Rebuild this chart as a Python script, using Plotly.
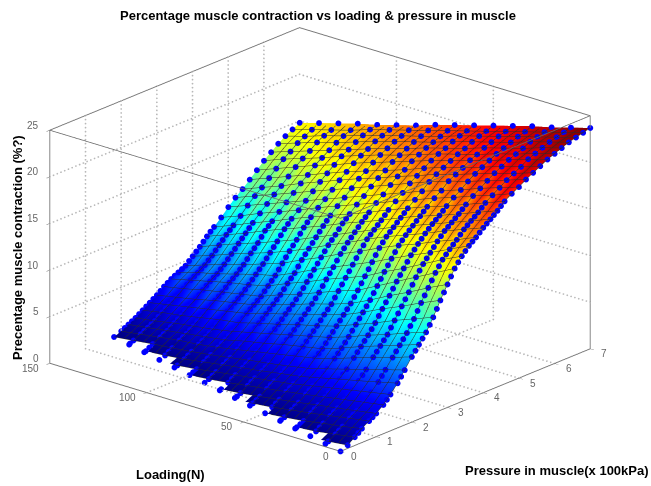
import numpy as np
import plotly.graph_objects as go

title_text = "Percentage muscle contraction vs loading & pressure in muscle"
x_title = "Pressure in muscle(x 100kPa)"
y_title = "Loading(N)"
z_title = "Precentage muscle contraction (%?)"

pressure = [round(0.2 * k, 1) for k in range(36)]
loading = [5 * j for j in range(31)]
chain_loading = [10 * i for i in range(16)]
chain_start = [0, .12, .24, .36, .48, .6, .72, .84, .96, 1.08, 1.2, 1.32, 1.44, 1.56, 1.68, 1.8]
pressure_limits = [0, 7]
loading_limits = [0, 150]
z_limits = [0, 25]
pressure_ticks = [0, 1, 2, 3, 4, 5, 6, 7]
loading_ticks = [0, 50, 100, 150]
z_ticks = [0, 5, 10, 15, 20, 25]

z_rows = [
[0],
[.35,.25,.13,.03],
[.9,.73,.57,.4,.26,.18,.07],
[1.5,1.3,1.1,.95,.8,.62,.45,.3,.2,.1,0],
[2,1.85,1.65,1.5,1.3,1.15,.95,.8,.65,.5,.33,.22,.12,.03],
[2.5,2.3,2.15,2,1.8,1.65,1.5,1.3,1.15,1,.83,.68,.53,.38,.27,.16,.06],
[3.1,2.9,2.75,2.55,2.4,2.2,2.05,1.9,1.7,1.55,1.37,1.2,1.05,.9,.75,.6,.45,.35,.2,.1,0],
[3.9,3.7,3.5,3.3,3.1,2.9,2.7,2.5,2.3,2.1,1.87,1.7,1.55,1.4,1.25,1.1,.95,.8,.65,.48,.32,.2,.1,.03],
[4.8,4.55,4.3,4.05,3.8,3.6,3.35,3.1,2.85,2.6,2.37,2.2,2.05,1.9,1.7,1.55,1.4,1.25,1.1,.95,.77,.6,.45,.33,.22,.13,.05],
[5.9,5.6,5.3,5,4.7,4.4,4.1,3.8,3.5,3.2,2.93,2.75,2.55,2.4,2.2,2.05,1.9,1.7,1.55,1.4,1.23,1.1,.95,.85,.7,.6,.5,.35,.25,.1,0],
[7,6.9,6.3,6.2,5.7,5.5,5,4.9,4.3,4.2,3.7,3.7,3.3,3.3,2.9,2.9,2.5,2.5,2.1,2.1,1.7,1.8,1.4,1.5,1.2,1.2,.9,.9,.6,.6,.3],
[8,7.8,7.3,7.1,6.6,6.4,5.9,5.7,5.1,5,4.4,4.4,4,4,3.6,3.5,3.1,3.1,2.7,2.6,2.2,2.3,1.9,2,1.6,1.7,1.3,1.4,1,1,.7],
[9,8.9,8.3,8.2,7.5,7.5,6.8,6.7,6,6,5.3,5.4,4.8,4.8,4.3,4.3,3.8,3.8,3.3,3.3,2.8,2.9,2.4,2.6,2.1,2.2,1.8,1.9,1.4,1.6,1.1],
[10.3,10.2,9.5,9.4,8.7,8.5,7.8,7.7,7,6.9,6.2,6.2,5.6,5.7,5.1,5.1,4.5,4.6,4,4,3.4,3.6,3.1,3.2,2.7,2.8,2.3,2.5,2,2.1,1.6],
[11.8,11.7,10.9,10.8,9.9,9.8,9,8.9,8,8,7.1,7.2,6.5,6.6,5.9,6,5.3,5.4,4.7,4.8,4.1,4.3,3.7,3.9,3.3,3.5,2.9,3.1,2.5,2.7,2.1],
[13.2,13.2,12.2,12.1,11.1,11.1,10.1,10,9,9,8,8.1,7.3,7.5,6.7,6.8,6,6.2,5.4,5.5,4.7,5,4.3,4.6,3.9,4.2,3.4,3.7,3,3.3,2.6],
[14.6,14.6,13.5,13.5,12.4,12.4,11.3,11.3,10.2,10.2,9.1,9.2,8.4,8.5,7.6,7.7,6.8,7,6.1,6.2,5.3,5.6,4.9,5.2,4.5,4.8,4.1,4.3,3.6,3.9,3.2],
[15.6,15.7,14.6,14.6,13.5,13.6,12.4,12.5,11.4,11.5,10.3,10.5,9.5,9.7,8.7,8.8,7.8,8,7,7.2,6.1,6.5,5.6,6,5.2,5.5,4.7,5,4.2,4.6,3.7],
[16.4,16.7,15.4,15.7,14.4,14.8,13.5,13.8,12.5,12.8,11.5,11.8,10.6,10.9,9.7,10,8.8,9.1,7.8,8.2,6.9,7.5,6.4,6.9,5.8,6.3,5.2,5.8,4.7,5.2,4.1],
[17,17.4,16.1,16.5,15.3,15.7,14.4,14.8,13.6,13.9,12.7,13,11.7,12.1,10.8,11.1,9.8,10.1,8.9,9.2,7.9,8.4,7.2,7.7,6.5,7,5.9,6.3,5.2,5.6,4.5],
[17.7,18.1,16.9,17.3,16.1,16.5,15.2,15.6,14.4,14.8,13.6,13.9,12.7,13,11.7,12,10.8,11.1,9.8,10.2,8.9,9.3,8.1,8.6,7.4,7.8,6.7,7.1,5.9,6.4,5.2],
[18.3,18.7,17.5,17.9,16.7,17.1,15.9,16.3,15.1,15.5,14.3,14.7,13.4,13.8,12.5,12.9,11.6,12,10.7,11.1,9.8,10.2,9,9.4,8.2,8.7,7.5,7.9,6.7,7.1,5.9],
[18.9,19.3,18.1,18.5,17.3,17.7,16.5,17,15.8,16.2,15,15.4,14.1,14.5,13.3,13.7,12.5,12.9,11.6,12,10.8,11.2,10,10.4,9.2,9.6,8.3,8.7,7.5,7.9,6.7],
[19.6,20,18.8,19.2,18,18.4,17.2,17.7,16.5,16.9,15.7,16.1,14.9,15.3,14,14.4,13.2,13.6,12.4,12.8,11.6,12,10.8,11.1,9.9,10.3,9.1,9.5,8.2,8.6,7.4],
[20.1,20.5,19.3,19.8,18.6,19,17.8,18.2,17.1,17.5,16.3,16.7,15.5,15.9,14.7,15.1,13.9,14.3,13.1,13.5,12.3,12.7,11.4,11.8,10.6,11,9.8,10.2,8.9,9.3,8.1],
[20.5,20.8,19.8,20.1,19.1,19.4,18.3,18.7,17.6,18,16.9,17.2,16.1,16.4,15.3,15.6,14.5,14.8,13.7,14,12.9,13.2,12.1,12.4,11.3,11.6,10.5,10.8,9.7,10,8.9],
[21,21.3,20.3,20.6,19.6,19.9,18.9,19.2,18.3,18.5,17.6,17.8,16.8,17,16,16.2,15.2,15.4,14.4,14.6,13.6,13.8,12.8,13,12,12.2,11.2,11.4,10.4,10.6,9.6],
[21.4,21.7,20.7,21,20.1,20.3,19.4,19.7,18.7,19,18.1,18.3,17.3,17.5,16.6,16.8,15.8,16,15.1,15.3,14.3,14.5,13.5,13.7,12.7,12.9,11.8,12,11,11.2,10.2],
[21.8,22,21.1,21.3,20.5,20.6,19.8,20,19.1,19.3,18.5,18.6,17.8,17.9,17,17.2,16.3,16.5,15.6,15.8,14.9,15,14.1,14.2,13.3,13.4,12.5,12.6,11.7,11.8,10.9],
[22.2,22.4,21.6,21.7,20.9,21.1,20.2,20.4,19.6,19.8,18.9,19.1,18.3,18.4,17.6,17.7,16.9,17.1,16.2,16.4,15.5,15.6,14.7,14.9,14,14.1,13.2,13.3,12.4,12.5,11.6],
[22.5,22.6,21.9,21.9,21.2,21.3,20.6,20.7,19.9,20,19.3,19.4,18.7,18.7,18,18.1,17.3,17.4,16.7,16.8,16,16.1,15.3,15.3,14.5,14.6,13.8,13.8,13.1,13.1,12.3],
[22.8,22.8,22.2,22.2,21.5,21.5,20.9,20.9,20.3,20.3,19.6,19.6,19,19,18.4,18.3,17.7,17.7,17.1,17.1,16.4,16.4,15.7,15.7,15,15,14.3,14.3,13.6,13.6,12.9],
[23.1,23.1,22.5,22.5,21.9,21.8,21.2,21.2,20.6,20.6,20,20,19.4,19.3,18.7,18.7,18.1,18.1,17.5,17.5,16.9,16.8,16.2,16.2,15.5,15.5,14.9,14.8,14.2,14.1,13.5],
[23.3,23.2,22.7,22.6,22.1,22,21.5,21.4,20.9,20.8,20.3,20.2,19.7,19.6,19,18.9,18.4,18.3,17.8,17.7,17.2,17.1,16.6,16.4,15.9,15.8,15.3,15.2,14.6,14.5,14],
[23.5,23.3,22.9,22.7,22.3,22.1,21.7,21.5,21.1,20.9,20.5,20.3,19.9,19.7,19.3,19.1,18.7,18.5,18.1,17.9,17.5,17.3,16.9,16.7,16.2,16,15.6,15.4,15,14.8,14.4],
[23.7,23.4,23.1,22.8,22.5,22.3,22,21.7,21.4,21.1,20.8,20.5,20.2,19.9,19.6,19.3,19,18.7,18.3,18,17.7,17.4,17.1,16.9,16.6,16.3,16,15.7,15.4,15.1,14.8],
]

# Extra chain markers, read where the chains are sampled more densely (one list per pressure, one value per chain).
extra_pressure = [.5,.9,1.3,1.7,2.1,2.3,2.5,2.7,2.9,3.1,3.3,3.5,3.7,3.9,4.1,4.3,4.5]
extra_rows = [
[1.2,.83,.53,.25,.05],
[2.25,1.9,1.55,1.22,.9,.58,.32,.07],
[3.5,3.12,2.75,2.38,2,1.62,1.3,1,.7,.42,.16],
[5.35,4.8,4.25,3.72,3.18,2.65,2.3,1.95,1.65,1.32,1,.7,.46,.28,.08],
[7.5,6.8,6.15,5.45,4.7,4.05,3.65,3.25,2.8,2.4,1.95,1.65,1.4,1.1,.8,.5],
[8.5,7.8,7.05,6.35,5.55,4.85,4.4,3.95,3.45,3,2.5,2.15,1.85,1.55,1.2,.9],
[9.65,8.9,8.1,7.3,6.5,5.75,5.2,4.7,4.15,3.65,3.1,2.75,2.4,2.05,1.7,1.35],
[11.05,10.2,9.3,8.4,7.5,6.65,6.05,5.5,4.9,4.35,3.75,3.4,3,2.6,2.25,1.85],
[12.5,11.55,10.5,9.55,8.5,7.55,6.9,6.3,5.65,5.05,4.4,4,3.6,3.15,2.75,2.35],
[13.9,12.85,11.75,10.7,9.6,8.55,7.85,7.15,6.4,5.75,5,4.6,4.2,3.75,3.3,2.9],
[15.1,14.05,12.95,11.85,10.8,9.7,8.95,8.15,7.3,6.55,5.7,5.25,4.85,4.4,3.9,3.45],
[16,15,13.95,12.95,11.95,10.9,10.05,9.2,8.3,7.4,6.5,6,5.5,4.95,4.45,3.9],
[16.7,15.75,14.85,13.95,13.05,12.1,11.15,10.25,9.3,8.35,7.4,6.8,6.15,5.55,4.95,4.3],
[17.35,16.5,15.7,14.8,14,13.15,12.2,11.25,10.3,9.35,8.4,7.65,6.95,6.3,5.55,4.85],
[18,17.2,16.4,15.55,14.75,13.95,13.05,12.1,11.2,10.25,9.35,8.55,7.8,7.1,6.3,5.55],
[18.6,17.8,17,16.2,15.45,14.65,13.75,12.9,12.05,11.15,10.3,9.5,8.7,7.9,7.1,6.3],
[19.25,18.45,17.65,16.85,16.15,15.35,14.5,13.65,12.85,12,11.2,10.4,9.55,8.7,7.85,7.05],
]

z_by_pressure = np.array([r + [None] * (31 - len(r)) for r in z_rows], dtype=float)

# Facets between two measured chains are flat; the table keeps their shade as read.
z_geometry = z_by_pressure.copy()
for j in range(1, 30, 2):
    both = ~np.isnan(z_by_pressure[:, j - 1]) & ~np.isnan(z_by_pressure[:, j + 1])
    z_geometry[both, j] = (z_by_pressure[both, j - 1] + z_by_pressure[both, j + 1]) / 2

# Shade: the banding read between chains, split either side of the mean surface.
band = np.nan_to_num(z_by_pressure - z_geometry)
band_gain = 1.5
shade = z_geometry.copy()
for j in range(1, 30, 2):
    shade[:, j] += band_gain * band[:, j]
for j in range(0, 31, 2):
    neighbours = [band[:, k] for k in (j - 1, j + 1) if 0 <= k <= 30]
    shade[:, j] -= band_gain * sum(neighbours) / 2

jet = [[0, "rgb(0,0,128)"], [.125, "rgb(0,0,255)"], [.375, "rgb(0,255,255)"],
       [.625, "rgb(255,255,0)"], [.875, "rgb(255,0,0)"], [1, "rgb(128,0,0)"]]

# Upper markers are nudged along the viewing direction so the mesh does not cut them;
# the lower ones stay half sunk in the mesh, as in the reference.
dot_x, dot_y, dot_z = [], [], []
def add_dot(p, load, v):
    if load > 0 and v >= 4:
        dot_x.append(max(p - 0.09, 0)); dot_y.append(load - 1.7); dot_z.append(v + 0.25)
    else:
        dot_x.append(p); dot_y.append(load); dot_z.append(v)

for i, load in enumerate(chain_loading):
    add_dot(chain_start[i], load, 0.0)
    for p, v in zip(pressure, z_by_pressure[:, 2 * i]):
        if not np.isnan(v) and p > chain_start[i]:
            add_dot(p, load, v)
for p, row in zip(extra_pressure, extra_rows):
    for i, v in enumerate(row):
        add_dot(p, chain_loading[i], v)

fig = go.Figure()
fig.add_trace(go.Surface(
    x=pressure, y=loading, z=z_geometry.T, surfacecolor=shade.T,
    colorscale=jet, cmin=0, cmax=23.7, showscale=False, hoverinfo="skip",
    lighting=dict(ambient=1, diffuse=0, specular=0, roughness=1, fresnel=0),
    contours=dict(
        x=dict(show=True, start=0, end=7, size=0.2, color="#2a2a2a", width=1, highlight=False),
        y=dict(show=True, start=0, end=150, size=5, color="#2a2a2a", width=1, highlight=False),
        z=dict(show=False, highlight=False)),
))
fig.add_trace(go.Scatter3d(x=dot_x, y=dot_y, z=dot_z, mode="markers", hoverinfo="skip",
                           marker=dict(size=3.4, color="#0000ff", line=dict(width=0))))

p0, p1 = pressure_limits
l0, l1 = loading_limits
z0, z1 = z_limits
# front top edges of the axes box
fig.add_trace(go.Scatter3d(x=[p0, p0, p1], y=[l1, l0, l0], z=[z1, z1, z1], mode="lines",
                           hoverinfo="skip", line=dict(color="#666666", width=1.5)))
# dotted grid drawn as rows of fine points
gx, gy, gz = [], [], []
def seg(a, b, n):
    for t in np.linspace(0, 1, n):
        gx.append(a[0] + (b[0] - a[0]) * t)
        gy.append(a[1] + (b[1] - a[1]) * t)
        gz.append(a[2] + (b[2] - a[2]) * t)
for p in pressure_ticks[1:-1]:
    seg((p, l0, z0), (p, l1, z0), 77)
    seg((p, l1, z0), (p, l1, z1), 59)
for v in loading_ticks[1:-1]:
    seg((p0, v, z0), (p1, v, z0), 68)
    seg((p1, v, z0), (p1, v, z1), 59)
for v in z_ticks[1:-1]:
    seg((p0, l1, v), (p1, l1, v), 68)
    seg((p1, l0, v), (p1, l1, v), 77)
fig.add_trace(go.Scatter3d(x=gx, y=gy, z=gz, mode="markers", hoverinfo="skip",
                           marker=dict(size=1, color="#b8b8b8", line=dict(width=0))))

axis_style = dict(showbackground=False, showgrid=False,
                  showline=True, linecolor="#777777", linewidth=2, mirror=True,
                  ticks="outside", ticklen=5, tickcolor="#666666", zeroline=False, showspikes=False,
                  showticklabels=False, title=dict(text=""))
tick_font = dict(family="Liberation Sans", size=10, color="#666666")
tick_labels = []
for v in pressure_ticks:
    tick_labels.append(dict(x=v, y=l0, z=z0, text=str(v), showarrow=False, xanchor="left", yanchor="middle",
                            xshift=9, yshift=-5, font=tick_font))
for v in loading_ticks:
    tick_labels.append(dict(x=p0, y=v, z=z0, text=str(v), showarrow=False, xanchor="right", yanchor="middle",
                            xshift=-9, yshift=-5, font=tick_font))
for v in z_ticks:
    tick_labels.append(dict(x=p0, y=l1, z=v, text=str(v), showarrow=False, xanchor="right", yanchor="middle",
                            xshift=-9, yshift=5, font=tick_font))

box = 1.6
fig.update_layout(
    width=651, height=486, autosize=False, margin=dict(l=0, r=0, t=0, b=0),
    paper_bgcolor="white", showlegend=False,
    font=dict(family="Liberation Sans", color="black"),
    scene=dict(
        domain=dict(x=[0, 1 - 11 / 651], y=[7 / 486, 1]),
        xaxis=dict(range=pressure_limits, tickvals=pressure_ticks, **axis_style),
        yaxis=dict(range=loading_limits, tickvals=loading_ticks, **axis_style),
        zaxis=dict(range=z_limits, tickvals=z_ticks, **axis_style),
        aspectmode="manual", aspectratio=dict(x=box, y=box, z=0.65 * box),
        camera=dict(eye=dict(x=-1.42, y=-1.22, z=.706), up=dict(x=0, y=0, z=1),
                    center=dict(x=0, y=0, z=0), projection=dict(type="orthographic")),
        annotations=tick_labels,
    ),
    annotations=[
        dict(text="<b>%s</b>" % title_text, x=318 / 651, y=1 - 16 / 486, xref="paper", yref="paper",
             xanchor="center", yanchor="middle", showarrow=False, font=dict(size=13)),
        dict(text="<b>%s</b>" % x_title, x=557 / 651, y=1 - 470 / 486, xref="paper", yref="paper",
             xanchor="center", yanchor="middle", showarrow=False, font=dict(size=13)),
        dict(text="<b>%s</b>" % y_title, x=170 / 651, y=1 - 474 / 486, xref="paper", yref="paper",
             xanchor="center", yanchor="middle", showarrow=False, font=dict(size=13)),
        dict(text="<b>%s</b>" % z_title, x=17 / 651, y=1 - 248 / 486, xref="paper", yref="paper",
             xanchor="center", yanchor="middle", showarrow=False, textangle=-90, font=dict(size=13)),
    ],
)

fig.write_html("out.html", post_script="document.body.style.margin='0';",
               config=dict(displayModeBar=False))
